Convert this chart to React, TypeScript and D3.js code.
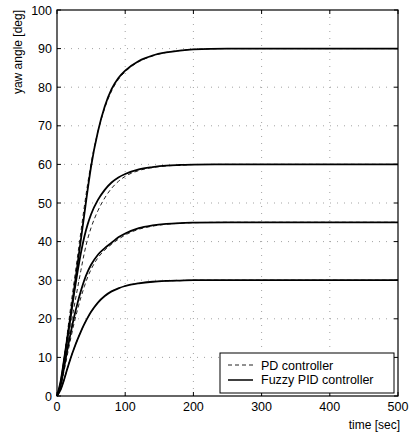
import React from "react";
import * as d3 from "d3";

const times = [0, 5, 10, 15, 20, 25, 30, 35, 40, 45, 50, 60, 70, 80, 90, 100, 120, 140, 160, 180, 200, 250, 300, 350, 400, 450, 500];

const fuzzy90 = [0, 3.5, 9, 15, 21, 27.5, 34, 40.5, 47, 53.5, 59.5, 68.5, 75, 79.5, 82.4, 84.3, 86.8, 88.2, 89, 89.5, 89.8, 90, 90, 90, 90, 90, 90];
const pd90 = [0, 3, 9, 16, 23, 29.5, 36, 42.5, 49, 55, 60.3, 68.5, 74.6, 79, 82, 84, 86.6, 88.1, 89, 89.5, 89.8, 90, 90, 90, 90, 90, 90];
const fuzzy60 = [0, 3, 8.5, 14.5, 20.5, 26.5, 32, 37, 41.2, 44.5, 47.1, 50.8, 53.4, 55.3, 56.6, 57.5, 58.7, 59.3, 59.7, 59.85, 59.95, 60, 60, 60, 60, 60, 60];
const pd60 = [0, 2.8, 7.5, 12.8, 18, 23, 27.8, 32.5, 37, 40.7, 43.6, 48, 51.3, 53.8, 55.6, 56.9, 58.4, 59.2, 59.6, 59.8, 59.95, 60, 60, 60, 60, 60, 60];
const fuzzy45 = [0, 2.5, 7, 11.8, 16.3, 20.4, 24, 27.2, 30, 32.2, 34, 36.6, 38.3, 39.7, 41.1, 42.1, 43.5, 44.2, 44.6, 44.8, 44.9, 45, 45, 45, 45, 45, 45];
const pd45 = [0, 2.2, 6.2, 10.5, 14.8, 18.8, 22.3, 25.5, 28.3, 30.8, 32.8, 35.8, 37.8, 39.3, 40.6, 41.7, 43.2, 44, 44.5, 44.75, 44.9, 45, 45, 45, 45, 45, 45];
const fuzzy30 = [0, 1.5, 4, 7, 9.8, 12.3, 14.6, 16.7, 18.6, 20.3, 21.8, 24.2, 25.9, 27.1, 27.9, 28.5, 29.2, 29.6, 29.8, 29.9, 30, 30, 30, 30, 30, 30, 30];
const pd30 = [0, 1.5, 4, 7, 9.8, 12.3, 14.6, 16.7, 18.6, 20.3, 21.8, 24.2, 25.9, 27.1, 27.9, 28.5, 29.2, 29.6, 29.8, 29.9, 30, 30, 30, 30, 30, 30, 30];

const xTicks = [0, 100, 200, 300, 400, 500];
const yTicks = [0, 10, 20, 30, 40, 50, 60, 70, 80, 90, 100];
const legendLabels = ["PD controller", "Fuzzy PID controller"];

const W = 414;
const H = 434;
const left = 57;
const right = 398;
const top = 10;
const bottom = 396;
const FONT = "'Liberation Sans', Arial, sans-serif";

export default function App() {
  const x = d3.scaleLinear().domain([0, 500]).range([left, right]);
  const y = d3.scaleLinear().domain([0, 100]).range([bottom, top]);
  const line = d3
    .line<number>()
    .x((_, i) => x(times[i]))
    .y((d) => y(d))
    .curve(d3.curveMonotoneX);

  const pdSeries = [pd90, pd60, pd45, pd30];
  const fuzzySeries = [fuzzy90, fuzzy60, fuzzy45, fuzzy30];

  return (
    <svg
      width={W}
      height={H}
      style={{ position: "absolute", left: 0, top: 0, background: "#fff" }}
      fontFamily={FONT}
    >
      <rect x={0} y={0} width={W} height={H} fill="#fff" />
      {/* grid */}
      {xTicks.slice(1, -1).map((t) => (
        <line key={"gx" + t} x1={x(t)} x2={x(t)} y1={top} y2={bottom} stroke="#999" strokeWidth={0.9} strokeDasharray="1,6" />
      ))}
      {yTicks.slice(1, -1).map((t) => (
        <line key={"gy" + t} x1={left} x2={right} y1={y(t)} y2={y(t)} stroke="#999" strokeWidth={0.9} strokeDasharray="1,6" />
      ))}
      {/* curves */}
      {pdSeries.map((s, i) => (
        <path key={"pd" + i} d={line(s) || ""} fill="none" stroke="#222" strokeWidth={1} strokeDasharray="4,3" />
      ))}
      {fuzzySeries.map((s, i) => (
        <path key={"fz" + i} d={line(s) || ""} fill="none" stroke="#000" strokeWidth={1.8} />
      ))}
      {/* frame */}
      <rect x={left} y={top} width={right - left} height={bottom - top} fill="none" stroke="#000" strokeWidth={1.2} />
      {/* ticks */}
      {xTicks.map((t) => (
        <g key={"xt" + t}>
          <line x1={x(t)} x2={x(t)} y1={bottom} y2={bottom - 4} stroke="#000" />
          <line x1={x(t)} x2={x(t)} y1={top} y2={top + 4} stroke="#000" />
          <text x={x(t)} y={bottom + 15} fontSize={12.5} textAnchor="middle" fill="#000">
            {t}
          </text>
        </g>
      ))}
      {yTicks.map((t) => (
        <g key={"yt" + t}>
          <line x1={left} x2={left + 4} y1={y(t)} y2={y(t)} stroke="#000" />
          <line x1={right} x2={right - 4} y1={y(t)} y2={y(t)} stroke="#000" />
          <text x={left - 5} y={y(t) + 4.5} fontSize={12.5} textAnchor="end" fill="#000">
            {t}
          </text>
        </g>
      ))}
      {/* axis labels */}
      <text x={400} y={429} fontSize={12} textAnchor="end" fill="#000">
        time [sec]
      </text>
      <text transform="translate(22,10) rotate(-90)" fontSize={12} textAnchor="end" fill="#000">
        yaw angle [deg]
      </text>
      {/* legend */}
      <rect x={220} y={353} width={174} height={40} fill="#fff" stroke="#000" strokeWidth={1} />
      <line x1={228} x2={253} y1={365} y2={365} stroke="#222" strokeWidth={1} strokeDasharray="4,3" />
      <line x1={228} x2={253} y1={380} y2={380} stroke="#000" strokeWidth={1.5} />
      <text x={261} y={369.5} fontSize={12.5} fill="#000">
        {legendLabels[0]}
      </text>
      <text x={261} y={384} fontSize={12.5} fill="#000">
        {legendLabels[1]}
      </text>
    </svg>
  );
}
